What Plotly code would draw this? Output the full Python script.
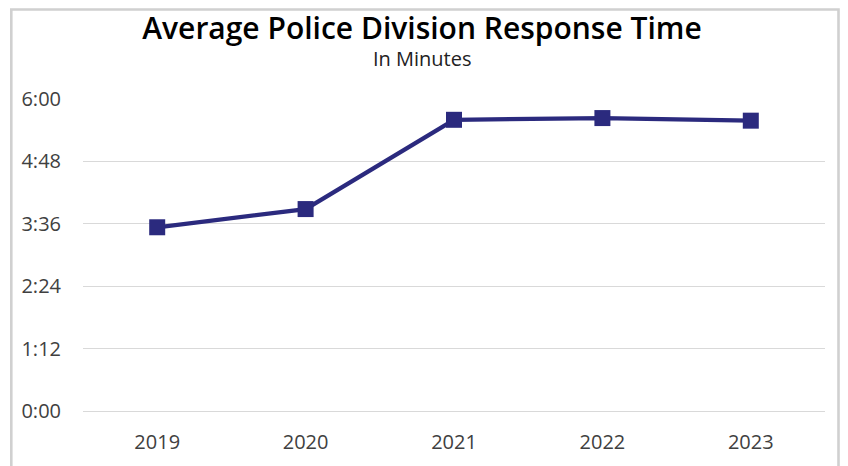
import plotly.graph_objects as go

years = ["2019", "2020", "2021", "2022", "2023"]
# average response time in seconds
response_seconds = [212, 233, 336, 338, 335]
tick_values = [0, 72, 144, 216, 288, 360]
tick_labels = ["0:00", "1:12", "2:24", "3:36", "4:48", "6:00"]

FONT = "Open Sans"
NAVY = "#2B2A7E"

fig = go.Figure()
fig.add_trace(go.Scatter(
    x=years, y=response_seconds, mode="lines+markers",
    line=dict(color=NAVY, width=4.3),
    marker=dict(symbol="square", size=16, color=NAVY),
    hoverinfo="x+y",
))

# page body has an 8px default margin; work in page pixels and shift
OFF = 8
W, H = 848 - OFF, 466 - OFF
L, R, T, B = 83 - OFF, 848 - 825, 99 - OFF, 466 - 411.5
pw, ph = W - L - R, H - T - B

def px_x(px):
    return (px - OFF - L) / pw

def px_y(py):
    return (H - B - (py - OFF)) / ph

fig.update_layout(
    width=W, height=H,
    margin=dict(l=L, r=R, t=T, b=B, pad=0),
    paper_bgcolor="white", plot_bgcolor="white",
    showlegend=False,
    font=dict(family=FONT, color="#404040", size=20),
    title=dict(text="Average Police Division Response Time",
               font=dict(family=FONT, size=30, color="#000000", weight=600),
               x=(422 - OFF) / W, xanchor="center", xref="container",
               y=1 - (28 - OFF) / H, yanchor="middle", yref="container"),
    xaxis=dict(type="category", range=[-0.5, 4.5], showgrid=False,
               showline=False, ticks="", tickfont=dict(size=20, color="#404040"),
               zeroline=False, ticklabelstandoff=17),
    yaxis=dict(range=[0, 360], tickvals=tick_values, ticktext=tick_labels,
               showgrid=True, gridcolor="#d9d9d9", gridwidth=1,
               zeroline=True, zerolinecolor="#d9d9d9", zerolinewidth=1,
               showline=False, ticks="",
               ticklabelstandoff=21,
               tickfont=dict(size=20, color="#404040")),
    annotations=[dict(text="In Minutes", xref="paper", yref="paper",
                      x=px_x(422), y=px_y(58),
                      xanchor="center", yanchor="middle", showarrow=False,
                      font=dict(family=FONT, size=20, color="#222222"))],
    shapes=[dict(type="rect", xref="paper", yref="paper",
                 x0=px_x(11.3), x1=px_x(838.5),
                 y0=px_y(480), y1=px_y(9.3),
                 line=dict(color="#d0d0d0", width=2.6), layer="below")],
)

fig.write_html("out.html")
